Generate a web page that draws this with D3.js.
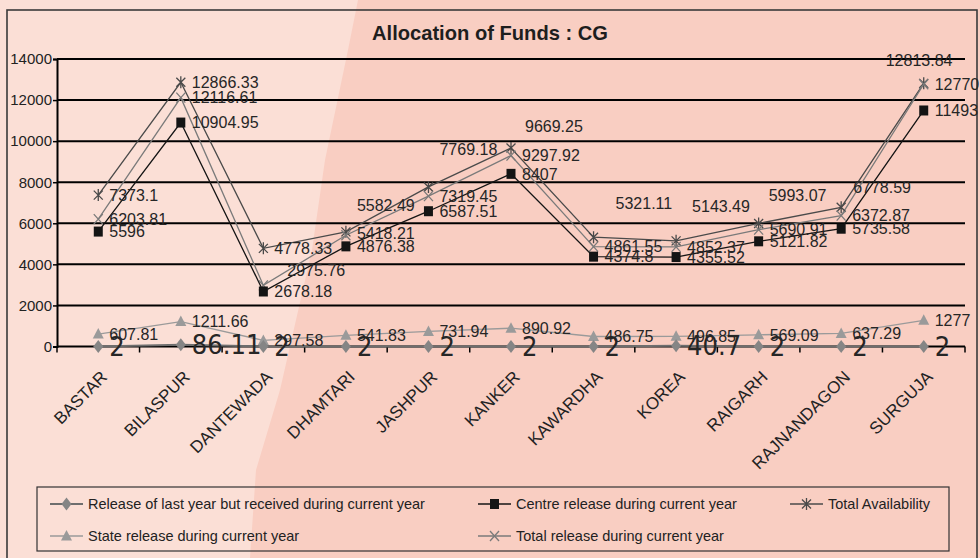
<!DOCTYPE html>
<html>
<head>
<meta charset="utf-8">
<title>Allocation of Funds : CG</title>
<script src="https://d3js.org/d3.v7.min.js"></script>
<style>
  body { margin: 0; background: #f9cec2; }
  svg { display: block; }
</style>
</head>
<body>
<div id="chart"></div>
<script>
// districts
var districts = ["BASTAR", "BILASPUR", "DANTEWADA", "DHAMTARI", "JASHPUR", "KANKER",
                 "KAWARDHA", "KOREA", "RAIGARH", "RAJNANDAGON", "SURGUJA"];

// series values
var releaseLastYear   = [2, 86.11, 2, 2, 2, 2, 2, 40.7, 2, 2, 2];
var centreRelease     = [5596, 10904.95, 2678.18, 4876.38, 6587.51, 8407, 4374.8, 4355.52, 5121.82, 5735.58, 11493];
var stateRelease      = [607.81, 1211.66, 297.58, 541.83, 731.94, 890.92, 486.75, 496.85, 569.09, 637.29, 1277];
var totalRelease      = [6203.81, 12116.61, 2975.76, 5418.21, 7319.45, 9297.92, 4861.55, 4852.37, 5690.91, 6372.87, 12770];
var totalAvailability = [7373.1, 12866.33, 4778.33, 5582.49, 7769.18, 9669.25, 5321.11, 5143.49, 5993.07, 6778.59, 12813.84];

var yTicks = [0, 2000, 4000, 6000, 8000, 10000, 12000, 14000];

// label nudges where the original moved a label off its marker
var availLabelDx = [11, 11, 11, 11, 11, 14, 22, 16, 10, 12, -38];
var availLabelDy = [0, 0, 0, -27, -38, -22, -34, -35, -28, -20, -23];
var totRelLabelDx = [11, 11, 24, 11, 11, 11, 11, 11, 11, 11, 11];
var totRelLabelDy = [0, 0, -15, -2, 0, 0, 0, 0, 0, 0, 0];

var W = 980, H = 558;
var plot = {left: 57, right: 965, top: 59, bottom: 346.5};
var FONT = "'Liberation Sans', Arial, Helvetica, sans-serif";
var NARROW = "'Liberation Sans Narrow', 'Arial Narrow', 'DejaVu Sans Condensed', sans-serif";

var svg = d3.select("#chart").append("svg")
    .attr("width", W)
    .attr("height", H);

// scanned page background: darker pink with a lighter sheet on the left
svg.append("rect").attr("width", W).attr("height", H).attr("fill", "#f9cec2");
svg.append("path")
    .attr("d", "M0,0 L358,0 L348,50 L325,160 L312,250 L280,390 L256,470 L250,558 L0,558 Z")
    .attr("fill", "#fbdfd6");

// chart frame
svg.append("rect")
    .attr("x", 7).attr("y", 10)
    .attr("width", 970).attr("height", 580)
    .attr("fill", "none")
    .attr("stroke", "#3a3a3a")
    .attr("stroke-width", 1.6);

svg.append("text")
    .attr("x", 490)
    .attr("y", 40)
    .attr("text-anchor", "middle")
    .attr("font-family", FONT)
    .attr("font-weight", "bold")
    .attr("font-size", 21)
    .attr("textLength", 236)
    .attr("lengthAdjust", "spacingAndGlyphs")
    .attr("fill", "#1e1e1e")
    .text("Allocation of Funds : CG");

var x = d3.scaleBand()
    .domain(districts)
    .range([plot.left, plot.right]);

var cx = function(i) { return x(districts[i]) + x.bandwidth() / 2; };

var y = d3.scaleLinear()
    .domain([0, 14000])
    .range([plot.bottom, plot.top]);

// gridlines
svg.append("g").selectAll("line")
    .data(yTicks.filter(function(d) { return d > 0; }))
    .enter().append("line")
    .attr("x1", plot.left).attr("x2", plot.right)
    .attr("y1", function(d) { return y(d); })
    .attr("y2", function(d) { return y(d); })
    .attr("stroke", "#000")
    .attr("stroke-width", 2);

// y axis
var yAxis = svg.append("g")
    .attr("transform", "translate(" + plot.left + ",0)")
    .call(d3.axisLeft(y).tickValues(yTicks).tickSize(4).tickPadding(1).tickFormat(d3.format("d")));
yAxis.select(".domain").attr("stroke", "#000").attr("stroke-width", 2);
yAxis.selectAll(".tick line").attr("stroke", "#000").attr("stroke-width", 1.5);
yAxis.selectAll("text")
    .attr("font-family", FONT)
    .attr("font-size", 15)
    .attr("fill", "#222");

// x axis: line + ticks at band boundaries
var xg = svg.append("g");
xg.append("line")
    .attr("x1", plot.left).attr("x2", plot.right)
    .attr("y1", plot.bottom).attr("y2", plot.bottom)
    .attr("stroke", "#000").attr("stroke-width", 2.2);
var bounds = districts.map(function(d) { return x(d); }).concat([plot.right]);
xg.selectAll(".xt").data(bounds).enter().append("line")
    .attr("x1", function(d) { return d; }).attr("x2", function(d) { return d; })
    .attr("y1", plot.bottom).attr("y2", plot.bottom + 6)
    .attr("stroke", "#000").attr("stroke-width", 1.5);

xg.selectAll(".xl").data(districts).enter().append("text")
    .attr("transform", function(d, i) { return "translate(" + (cx(i) + 10) + ",378) rotate(-45)"; })
    .attr("text-anchor", "end")
    .attr("font-family", FONT)
    .attr("font-size", 17)
    .attr("fill", "#222")
    .text(function(d) { return d; });

// markers
function markerPath(type) {
  if (type === "diamond") return "M0,-6.5L5,0L0,6.5L-5,0Z";
  if (type === "square") return "M-4.5,-5L4.5,-5L4.5,5L-4.5,5Z";
  if (type === "triangle") return "M0,-6L5.5,4.5L-5.5,4.5Z";
  if (type === "times") return "M-4.5,-5L4.5,5M-4.5,5L4.5,-5";
  return "M-4.5,-4.5L4.5,4.5M-4.5,4.5L4.5,-4.5M0,-6L0,6"; // star
}
var strokeMarkers = {times: true, star: true};

var series = [
  {name: "Total Availability", values: totalAvailability, color: "#4a4a4a", marker: "star", dx: availLabelDx, dy: availLabelDy},
  {name: "Total release during current year", values: totalRelease, color: "#7a7a7a", marker: "times", dx: totRelLabelDx, dy: totRelLabelDy},
  {name: "Centre release during current year", values: centreRelease, color: "#141414", marker: "square"},
  {name: "State release during current year", values: stateRelease, color: "#9a9a9a", marker: "triangle"},
  {name: "Release of last year but received during current year", values: releaseLastYear, color: "#6e6e6e", marker: "diamond", big: true}
];

var line = d3.line()
    .x(function(d, i) { return cx(i); })
    .y(function(d) { return y(d); });

series.forEach(function(s) {
  svg.append("path")
      .datum(s.values)
      .attr("d", line)
      .attr("fill", "none")
      .attr("stroke", s.color)
      .attr("stroke-width", s.big ? 2 : 1.3);
});

series.forEach(function(s) {
  svg.append("g").selectAll("path")
      .data(s.values)
      .enter().append("path")
      .attr("transform", function(d, i) { return "translate(" + cx(i) + "," + y(d) + ")"; })
      .attr("d", markerPath(s.marker))
      .attr("fill", strokeMarkers[s.marker] ? "none" : (s.big ? "#858585" : s.color))
      .attr("stroke", strokeMarkers[s.marker] ? s.color : "none")
      .attr("stroke-width", 1.3);
});

series.forEach(function(s) {
  svg.append("g").selectAll("text")
      .data(s.values)
      .enter().append("text")
      .attr("x", function(d, i) { return cx(i) + (s.dx ? s.dx[i] : 11); })
      .attr("y", function(d, i) { return y(d) + (s.dy ? s.dy[i] : 0); })
      .attr("dy", "0.36em")
      .attr("font-family", s.big ? NARROW : FONT)
      .attr("font-size", s.big ? 27 : 16)
      .attr("fill", "#262626")
      .text(function(d) { return d; });
});

// legend
var legend = svg.append("g");
legend.append("rect")
    .attr("x", 37).attr("y", 487)
    .attr("width", 912).attr("height", 64)
    .attr("fill", "none")
    .attr("stroke", "#333")
    .attr("stroke-width", 1.2);

var legendOrder = [4, 2, 0, 3, 1];
var legendCols = [50, 478, 790];
legendOrder.forEach(function(si, k) {
  var s = series[si];
  var lx = legendCols[k % 3], ly = k < 3 ? 504 : 536;
  legend.append("line")
      .attr("x1", lx).attr("x2", lx + 33)
      .attr("y1", ly).attr("y2", ly)
      .attr("stroke", s.color)
      .attr("stroke-width", s.big ? 2 : 1.5);
  legend.append("path")
      .attr("transform", "translate(" + (lx + 16.5) + "," + ly + ")")
      .attr("d", markerPath(s.marker))
      .attr("fill", strokeMarkers[s.marker] ? "none" : (s.big ? "#858585" : s.color))
      .attr("stroke", strokeMarkers[s.marker] ? s.color : "none")
      .attr("stroke-width", 1.3);
  legend.append("text")
      .attr("x", lx + 38)
      .attr("y", ly)
      .attr("dy", "0.36em")
      .attr("font-family", FONT)
      .attr("font-size", 14.5)
      .attr("fill", "#222")
      .text(s.name);
});
</script>
</body>
</html>
